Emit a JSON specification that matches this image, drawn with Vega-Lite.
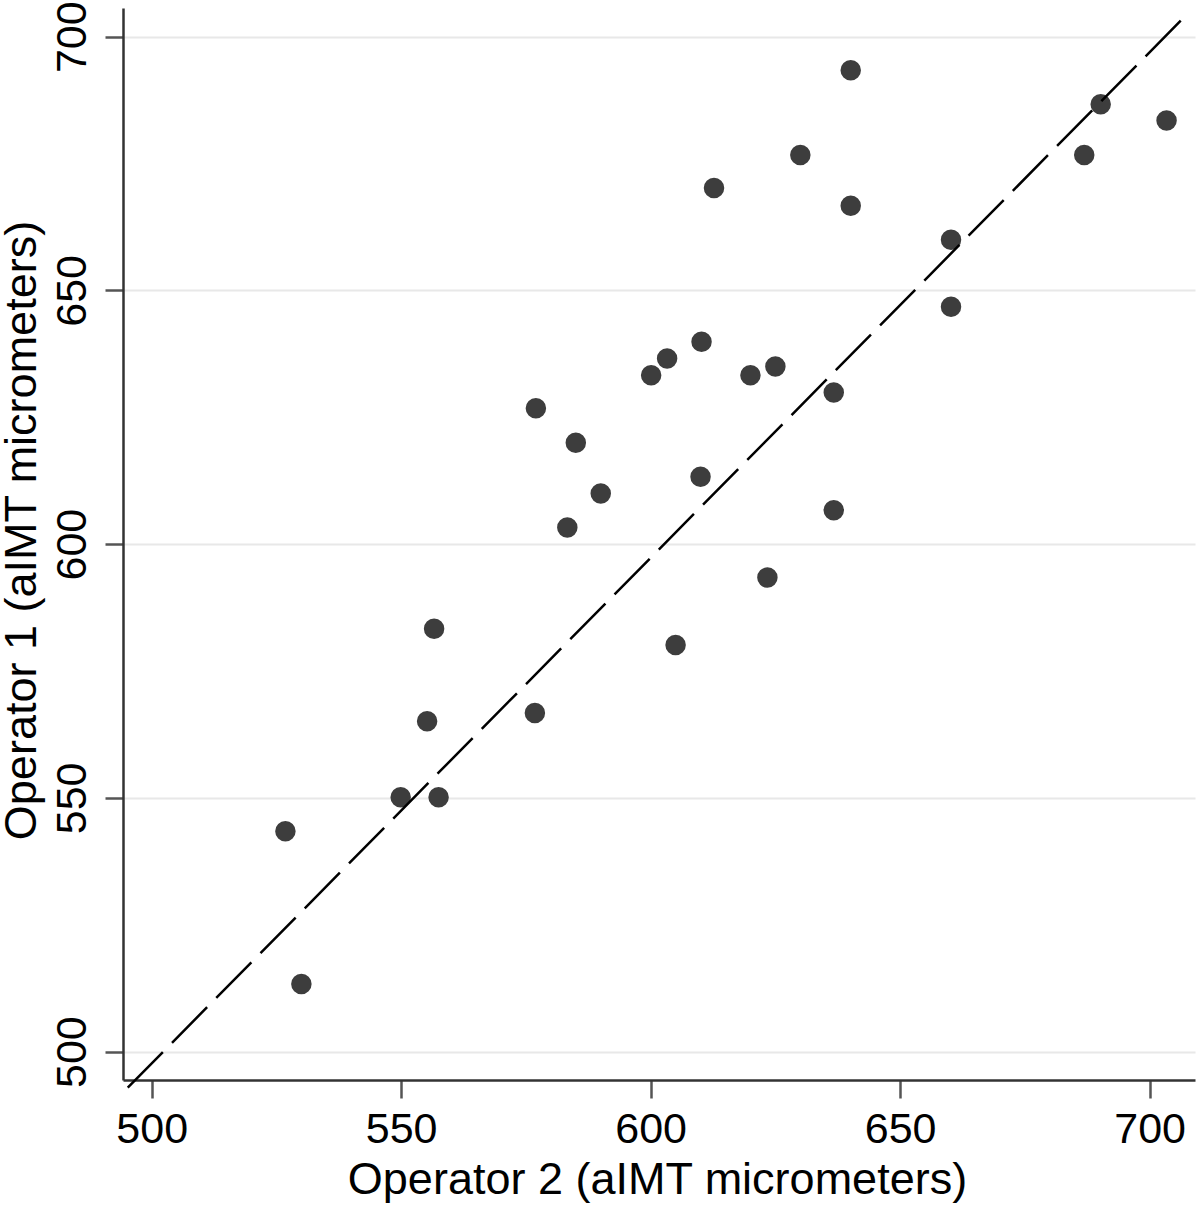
{
  "$schema": "https://vega.github.io/schema/vega-lite/v6.json",
  "width": 1072,
  "height": 1072,
  "autosize": {"type": "none"},
  "padding": {"left": 123, "top": 8, "right": 5, "bottom": 127},
  "background": "white",
  "config": {
    "view": {"stroke": null},
    "font": "Liberation Sans"
  },
  "datasets": {
    "pts": [
      {"op2": 526.8, "op1": 543.4},
      {"op2": 530.0, "op1": 513.3},
      {"op2": 549.9, "op1": 550.1},
      {"op2": 555.2, "op1": 565.1},
      {"op2": 557.5, "op1": 550.1},
      {"op2": 556.6, "op1": 583.3},
      {"op2": 576.8, "op1": 566.7},
      {"op2": 577.0, "op1": 626.8},
      {"op2": 583.3, "op1": 603.3},
      {"op2": 585.0, "op1": 620.0},
      {"op2": 590.0, "op1": 610.0},
      {"op2": 600.1, "op1": 633.3},
      {"op2": 603.3, "op1": 636.6},
      {"op2": 605.0, "op1": 580.1},
      {"op2": 610.2, "op1": 639.9},
      {"op2": 610.0, "op1": 613.3},
      {"op2": 612.7, "op1": 670.2},
      {"op2": 620.0, "op1": 633.3},
      {"op2": 623.4, "op1": 593.4},
      {"op2": 625.0, "op1": 635.0},
      {"op2": 630.0, "op1": 676.7},
      {"op2": 636.7, "op1": 629.9},
      {"op2": 636.7, "op1": 606.7},
      {"op2": 640.1, "op1": 693.4},
      {"op2": 640.1, "op1": 666.7},
      {"op2": 660.2, "op1": 660.0},
      {"op2": 660.2, "op1": 646.8},
      {"op2": 686.9, "op1": 676.7},
      {"op2": 690.2, "op1": 686.7},
      {"op2": 703.4, "op1": 683.5}
    ],
    "ref": [
      {"op2": 495.2, "op1": 492.9},
      {"op2": 707.4, "op1": 704.3}
    ]
  },
  "layer": [
    {
      "data": {"name": "pts"},
      "mark": {"type": "point", "filled": true, "shape": "circle", "size": 420, "color": "#3d3d3d", "opacity": 1},
      "encoding": {
        "x": {
          "field": "op2", "type": "quantitative",
          "scale": {"domain": [494.25, 709.1], "nice": false, "zero": false},
          "axis": {
            "title": "Operator 2 (aIMT micrometers)",
            "values": [500, 550, 600, 650, 700],
            "grid": false,
            "domainColor": "#333333", "domainWidth": 2.5,
            "tickColor": "#555555", "tickWidth": 2.5, "tickSize": 18,
            "labelFontSize": 43, "labelColor": "black", "labelFont": "Liberation Sans",
            "labelBaseline": "alphabetic", "labelPadding": 44,
            "labelFlush": false, "labelOverlap": false,
            "titleFontSize": 45, "titleFontWeight": "normal", "titleColor": "black", "titleFont": "Liberation Sans",
            "titleBaseline": "alphabetic", "titleY": 113, "titleX": 534, "titleAlign": "center"
          }
        },
        "y": {
          "field": "op1", "type": "quantitative",
          "scale": {"domain": [494.4, 705.65], "nice": false, "zero": false},
          "axis": {
            "title": "Operator 1 (aIMT micrometers)",
            "values": [500, 550, 600, 650, 700],
            "grid": true, "gridColor": "#e8e8e8", "gridWidth": 2,
            "domainColor": "#333333", "domainWidth": 2.5,
            "tickColor": "#555555", "tickWidth": 2.5, "tickSize": 18,
            "labelFontSize": 43, "labelColor": "black", "labelFont": "Liberation Sans",
            "labelAngle": -90, "labelAlign": "center", "labelBaseline": "alphabetic", "labelPadding": 20,
            "labelFlush": false, "labelOverlap": false,
            "titleFontSize": 45, "titleFontWeight": "normal", "titleColor": "black", "titleFont": "Liberation Sans",
            "titleAngle": -90, "titleBaseline": "alphabetic", "titleAlign": "center", "titleX": -88, "titleY": 522
          }
        }
      }
    },
    {
      "data": {"name": "ref"},
      "mark": {"type": "line", "color": "black", "strokeWidth": 2.5, "strokeDash": [50, 13], "clip": false},
      "encoding": {
        "x": {"field": "op2", "type": "quantitative"},
        "y": {"field": "op1", "type": "quantitative"}
      }
    }
  ]
}
